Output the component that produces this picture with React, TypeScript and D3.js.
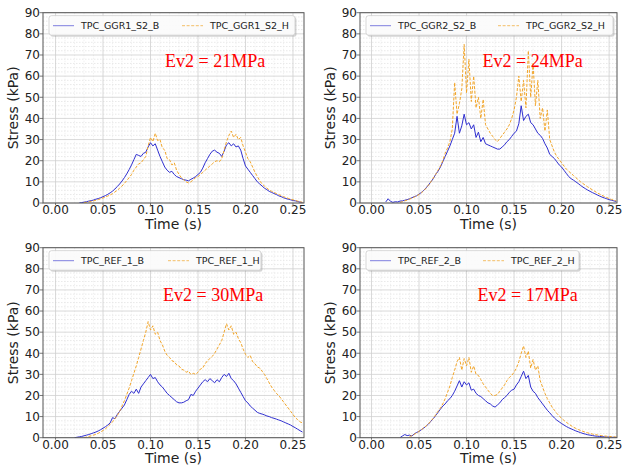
import React from 'react';
import * as d3 from 'd3';

// ---------------- data ----------------
const STEP = 0.0025; // sampling interval of the series (s)

const xTickValues = [0, 0.05, 0.1, 0.15, 0.2, 0.25];
const yTickValues = [0, 10, 20, 30, 40, 50, 60, 70, 80, 90];
const yMinorGrid = [2, 4, 6, 8, 12, 14, 16, 18, 22, 24, 26, 28, 32, 34, 36, 38, 42, 44, 46, 48, 52, 54, 56, 58, 62, 64, 66, 68, 72, 74, 76, 78, 82, 84, 86, 88];
const xMinorGrid = [0.01, 0.02, 0.03, 0.04, 0.06, 0.07, 0.08, 0.09, 0.11, 0.12, 0.13, 0.14, 0.16, 0.17, 0.18, 0.19, 0.21, 0.22, 0.23, 0.24];

const ggr1BStart = 0.025;
const ggr1B = [0, 0.2, 0.4, 0.6, 0.9, 1.1, 1.4, 1.8, 2.1, 2.5,
  3.0, 3.5, 4.1, 4.8, 5.6, 6.6, 7.8, 9.0, 10.4, 12.0,
  13.8, 15.8, 18.0, 20.5, 23.0, 22.5, 22.0, 23.5, 24.0, 26.5,
  28.5, 27.0, 28.0, 25.0, 22.0, 19.5, 17.0, 15.5, 14.5, 15.0,
  13.5, 12.5, 12.0, 11.5, 11.0, 10.8, 10.5, 11.2, 11.8, 12.5,
  13.5, 14.5, 16.5, 19.0, 21.0, 23.0, 24.5, 25.0, 24.0, 23.5,
  22.0, 24.5, 27.5, 28.5, 27.0, 28.0, 26.5, 27.0, 25.0, 21.0,
  17.5, 16.0, 14.5, 13.0, 11.5, 10.0, 9.0, 8.0, 7.0, 6.3,
  5.5, 5.0, 4.5, 4.0, 3.4, 3.0, 2.5, 2.1, 1.8, 1.5,
  1.2, 1.0, 0.7, 0.4, 0.2];

const ggr1HStart = 0.03;
const ggr1H = [0.2, 0.3, 0.5, 0.7, 1.0, 1.3, 1.6, 2.0, 2.4, 2.8,
  3.3, 3.8, 4.4, 5.2, 6.0, 7.0, 8.0, 9.3, 10.6, 12.0,
  13.5, 15.5, 17.0, 18.5, 19.0, 20.5, 22.0, 27.0, 31.0, 29.0,
  33.0, 29.5, 30.0, 26.0, 25.0, 21.0, 20.5, 18.0, 19.0, 15.5,
  13.5, 12.0, 11.0, 10.0, 9.5, 10.0, 11.0, 12.0, 12.5, 13.5,
  14.5, 15.5, 16.5, 17.5, 18.5, 19.5, 20.0, 19.5, 21.0, 25.0,
  29.0, 32.0, 34.0, 31.0, 32.5, 30.0, 31.0, 27.0, 24.0, 21.0,
  19.5, 17.0, 14.5, 12.5, 10.5, 9.0, 8.0, 7.0, 6.2, 5.5,
  5.0, 4.5, 4.0, 3.5, 3.0, 2.6, 2.2, 1.8, 1.5, 1.2,
  0.9, 0.6, 0.3];

const ggr2BStart = 0.015;
const ggr2B = [0.5, 2.0, 0.8, 0.3, 0.6, 0.5, 0.9, 1.0, 1.3, 1.6,
  2.0, 2.5, 3.0, 3.4, 4.2, 5.0, 6.0, 7.2, 8.5, 10.0,
  11.5, 13.5, 15.0, 17.0, 19.5, 22.0, 24.5, 27.0, 30.0, 33.0,
  41.0, 33.0, 36.5, 42.0, 37.0, 38.0, 35.0, 37.0, 31.0, 33.5,
  29.0, 31.0, 28.0, 27.5, 27.0, 26.5, 26.0, 25.5, 25.5, 26.5,
  27.5, 29.0, 30.0, 31.5, 33.0, 34.0, 37.5, 46.0, 39.0, 41.0,
  42.0, 38.0, 37.0, 35.0, 33.0, 32.0, 30.5, 28.0, 26.0, 23.0,
  22.0, 21.0, 19.5, 18.0, 17.0, 15.5, 14.0, 12.5, 11.5, 10.8,
  10.0, 9.2, 8.3, 7.5, 6.8, 6.1, 5.5, 4.9, 4.4, 3.8,
  3.3, 2.8, 2.4, 2.0, 1.6, 1.3, 1.0, 0.7];

const ggr2HStart = 0.03;
const ggr2H = [0.3, 0.6, 1.0, 1.4, 1.8, 2.3, 2.8, 3.4, 4.0, 4.8,
  5.8, 7.0, 8.5, 10.0, 11.8, 13.5, 15.5, 17.5, 20.0, 23.5,
  26.0, 29.0, 35.0, 57.0, 42.0, 47.0, 54.0, 75.0, 52.0, 68.0,
  48.0, 60.0, 45.0, 50.0, 40.0, 49.0, 37.0, 35.0, 33.0, 31.5,
  30.0, 29.0, 30.5, 32.0, 33.5, 35.0, 37.0, 40.0, 44.0, 50.0,
  60.0, 48.0, 58.0, 45.0, 72.0, 50.0, 66.0, 46.0, 58.0, 40.0,
  45.0, 34.0, 44.0, 30.0, 27.0, 24.0, 22.0, 20.5, 19.0, 17.5,
  16.0, 15.0, 14.0, 13.0, 12.0, 11.0, 10.0, 9.2, 8.4, 7.6,
  6.9, 6.2, 5.5, 4.8, 4.2, 3.6, 3.1, 2.6, 2.1, 1.7,
  1.3, 1.0];

const ref1BStart = 0.02;
const ref1B = [0, 0.2, 0.4, 0.6, 0.9, 1.2, 1.5, 1.9, 2.3, 2.7,
  3.2, 3.8, 4.5, 5.2, 6.0, 7.0, 9.5, 9.0, 11.0, 12.5,
  14.0, 15.5, 18.0, 20.5, 22.0, 21.0, 23.0, 21.0, 24.0, 25.5,
  27.0, 28.5, 30.0, 28.0, 28.5, 26.5, 25.0, 24.0, 22.5, 21.0,
  20.0, 19.0, 18.0, 17.0, 16.5, 16.5, 16.8, 17.5, 18.0, 20.5,
  20.0, 22.0, 23.5, 25.0, 26.5, 27.5, 26.5, 28.0, 27.0, 26.0,
  27.5, 26.5, 28.5, 30.0, 29.0, 30.5, 28.0, 27.0, 25.5, 23.5,
  21.5, 19.5, 17.5, 16.5, 15.0, 14.0, 13.0, 12.0, 11.5, 11.2,
  10.8, 10.3, 10.0, 9.5, 9.2, 8.8, 8.4, 8.0, 7.5, 7.0,
  6.5, 6.0, 5.3, 4.7, 4.0, 3.3, 2.7];

const ref1HStart = 0.03;
const ref1H = [0, 0.3, 0.6, 0.9, 1.2, 1.6, 2.1, 2.7, 3.4, 4.2,
  5.2, 6.3, 7.5, 9.0, 10.5, 12.5, 15.0, 17.5, 20.5, 23.5,
  27.0, 30.5, 34.0, 38.0, 42.0, 46.0, 50.0, 55.0, 51.0, 53.0,
  49.0, 50.0, 46.0, 44.0, 41.0, 39.0, 38.0, 36.5, 36.0, 34.5,
  34.0, 32.5, 32.0, 31.0, 31.5, 30.0, 30.5, 30.0, 31.0, 32.5,
  33.0, 35.0, 36.5, 37.5, 38.5, 40.0, 42.0, 44.0, 46.0, 50.0,
  54.0, 51.0, 53.0, 49.0, 50.0, 47.0, 45.0, 42.0, 39.5, 38.0,
  39.0, 36.0, 35.0, 33.5, 33.0, 31.5, 30.0, 28.0, 26.0, 24.0,
  22.5, 21.0, 20.0, 18.5, 17.0, 15.5, 14.0, 12.5, 11.0, 9.5,
  8.5, 7.5, 7.0];

const ref2BStart = 0.03;
const ref2B = [0, 0.8, 1.5, 1.0, 1.2, 0.8, 1.8, 2.5, 3.0, 3.8,
  4.6, 5.5, 6.5, 7.8, 9.0, 10.5, 12.0, 13.5, 15.0, 16.0,
  17.5, 18.5, 20.0, 22.0, 24.5, 27.0, 24.0, 26.5, 25.0, 26.0,
  22.5, 23.0, 21.0, 20.0, 19.5, 18.5, 17.5, 16.5, 16.0, 15.0,
  14.5, 15.5, 16.5, 18.0, 19.0, 20.0, 21.5, 22.5, 23.0, 25.0,
  26.5, 29.0, 31.5, 28.0, 29.5, 24.0, 22.0, 21.0, 19.0, 17.5,
  16.0, 14.5, 13.0, 11.8, 10.5, 9.3, 8.3, 7.5, 6.7, 6.0,
  5.3, 4.7, 4.2, 3.7, 3.2, 2.8, 2.4, 2.0, 1.7, 1.4,
  1.2, 1.0, 0.8, 0.7, 0.6, 0.5, 0.4, 0.3, 0.3, 0.2,
  0.2, 0.1, 0.1];

const ref2HStart = 0.04;
const ref2H = [0.5, 1.0, 1.6, 2.2, 3.0, 3.8, 4.7, 5.6, 6.6, 7.9,
  9.2, 10.8, 12.5, 14.0, 16.0, 18.5, 21.5, 24.5, 28.5, 32.0,
  36.0, 38.0, 32.0, 37.5, 34.0, 38.0, 31.0, 34.0, 30.0, 29.5,
  27.5, 25.5, 24.0, 22.5, 21.0, 20.0, 20.0, 20.5, 22.0, 23.5,
  25.0, 27.0, 28.5, 29.5, 31.0, 33.0, 36.0, 40.0, 43.5, 38.0,
  41.0, 33.0, 37.0, 32.0, 34.0, 27.0, 24.0, 21.0, 18.5, 16.5,
  14.5, 13.0, 11.5, 10.3, 9.2, 8.2, 7.3, 6.5, 5.7, 5.0,
  4.4, 3.9, 3.4, 3.0, 2.6, 2.3, 2.0, 1.7, 1.5, 1.3,
  1.1, 0.9, 0.8, 0.7, 0.6, 0.5, 0.4, 0.3, 0.3];

const legendNamesB = ['TPC_GGR1_S2_B', 'TPC_GGR2_S2_B', 'TPC_REF_1_B', 'TPC_REF_2_B'];
const legendNamesH = ['TPC_GGR1_S2_H', 'TPC_GGR2_S2_H', 'TPC_REF_1_H', 'TPC_REF_2_H'];
const ev2Labels = ['Ev2 = 21MPa', 'Ev2 = 24MPa', 'Ev2 = 30MPa', 'Ev2 = 17MPa'];

// ---------------- layout ----------------
const FONT = "'DejaVu Sans', sans-serif";
const BLUE = '#2f2fcf';
const ORANGE = '#f1a52a';

const panels = [
  { id: 'p1', left: 43, right: 304, top: 12.7, bottom: 203, xDomain: [-0.0132, 0.2616], b: ggr1B, bStart: ggr1BStart, h: ggr1H, hStart: ggr1HStart, nameB: legendNamesB[0], nameH: legendNamesH[0], ev2: ev2Labels[0], evDx: 122, evDy: 54, legW: 246, legG: 133 },
  { id: 'p2', left: 360, right: 617, top: 12.7, bottom: 203, xDomain: [-0.0121, 0.2583], b: ggr2B, bStart: ggr2BStart, h: ggr2H, hStart: ggr2HStart, nameB: legendNamesB[1], nameH: legendNamesH[1], ev2: ev2Labels[1], evDx: 122.5, evDy: 54, legW: 247, legG: 132 },
  { id: 'p3', left: 43, right: 304, top: 247.7, bottom: 437.7, xDomain: [-0.0132, 0.2616], b: ref1B, bStart: ref1BStart, h: ref1H, hStart: ref1HStart, nameB: legendNamesB[2], nameH: legendNamesH[2], ev2: ev2Labels[2], evDx: 120, evDy: 53, legW: 212, legG: 119 },
  { id: 'p4', left: 360, right: 617, top: 247.7, bottom: 437.7, xDomain: [-0.0121, 0.2583], b: ref2B, bStart: ref2BStart, h: ref2H, hStart: ref2HStart, nameB: legendNamesB[3], nameH: legendNamesH[3], ev2: ev2Labels[3], evDx: 117.5, evDy: 53, legW: 213, legG: 117 },
];

function Panel({ p }: { p: any }) {
  const x = d3.scaleLinear().domain(p.xDomain).range([p.left, p.right]);
  const y = d3.scaleLinear().domain([0, 90]).range([p.bottom, p.top]);
  const mkLine = (start: number) =>
    d3.line<number>().x((_, i) => x(start + i * STEP)).y((d) => y(d));
  const lx = p.left + 6;
  const ly = p.top + 3;
  const cx = (p.left + p.right) / 2;
  const cy = (p.top + p.bottom) / 2;
  return (
    <g>
      <defs>
        <clipPath id={'clip-' + p.id}>
          <rect x={p.left} y={p.top} width={p.right - p.left} height={p.bottom - p.top} />
        </clipPath>
      </defs>
      {/* minor grid */}
      {yMinorGrid.map((v) => (
        <line key={'ym' + v} x1={p.left} x2={p.right} y1={y(v)} y2={y(v)} stroke="#dadada" strokeWidth={0.6} strokeDasharray="1.5 1.5" />
      ))}
      {xMinorGrid.map((v) => (
        <line key={'xm' + v} x1={x(v)} x2={x(v)} y1={p.top} y2={p.bottom} stroke="#e8e8e8" strokeWidth={0.6} strokeDasharray="1.5 1.5" />
      ))}
      {/* major grid */}
      {yTickValues.map((v) => (
        <line key={'yg' + v} x1={p.left} x2={p.right} y1={y(v)} y2={y(v)} stroke="#d0d0d0" strokeWidth={0.8} />
      ))}
      {xTickValues.map((v) => (
        <line key={'xg' + v} x1={x(v)} x2={x(v)} y1={p.top} y2={p.bottom} stroke="#cfcfcf" strokeWidth={0.8} />
      ))}
      {/* series */}
      <g clipPath={`url(#clip-${p.id})`}>
        <path d={mkLine(p.bStart)(p.b) || ''} fill="none" stroke={BLUE} strokeWidth={1} strokeLinejoin="round" />
        <path d={mkLine(p.hStart)(p.h) || ''} fill="none" stroke={ORANGE} strokeWidth={1} strokeDasharray="3 1.6" strokeLinejoin="round" />
      </g>
      {/* frame */}
      <rect x={p.left} y={p.top} width={p.right - p.left} height={p.bottom - p.top} fill="none" stroke="#555" strokeWidth={1} />
      {/* y ticks */}
      {yTickValues.map((v) => (
        <g key={'yt' + v}>
          <line x1={p.left - 3.5} x2={p.left} y1={y(v)} y2={y(v)} stroke="#555" strokeWidth={0.8} />
          <text x={p.left - 3} y={y(v)} dy="0.36em" textAnchor="end" fontFamily={FONT} fontSize={12} fill="#222">{v}</text>
        </g>
      ))}
      {/* x ticks */}
      {xTickValues.map((v) => (
        <g key={'xt' + v}>
          <line x1={x(v)} x2={x(v)} y1={p.bottom} y2={p.bottom + 2} stroke="#555" strokeWidth={0.8} />
          <text x={x(v)} y={p.bottom + 11} textAnchor="middle" fontFamily={FONT} fontSize={12} fill="#222">{v.toFixed(2)}</text>
        </g>
      ))}
      {/* axis labels */}
      <text x={cx} y={p.bottom + 25.5} textAnchor="middle" fontFamily={FONT} fontSize={14} fill="#222">Time (s)</text>
      <text transform={`translate(${p.left - 25},${cy}) rotate(-90)`} textAnchor="middle" fontFamily={FONT} fontSize={14} fill="#222">Stress (kPa)</text>
      {/* legend */}
      <rect x={lx + 1.5} y={ly + 1.5} width={p.legW} height={19.5} rx={2.5} fill="#888" opacity={0.35} />
      <rect x={lx} y={ly} width={p.legW} height={19.5} rx={2.5} fill="#fff" fillOpacity={0.9} stroke="#cccccc" strokeWidth={0.8} />
      <line x1={lx + 4} x2={lx + 25} y1={ly + 10} y2={ly + 10} stroke={BLUE} strokeOpacity={0.6} strokeWidth={1} />
      <text x={lx + 32} y={ly + 13.5} fontFamily={FONT} fontSize={9.5} fill="#222">{p.nameB}</text>
      <line x1={lx + p.legG} x2={lx + p.legG + 21} y1={ly + 10} y2={ly + 10} stroke={ORANGE} strokeOpacity={0.7} strokeWidth={1} strokeDasharray="3 1.6" />
      <text x={lx + p.legG + 28} y={ly + 13.5} fontFamily={FONT} fontSize={9.5} fill="#222">{p.nameH}</text>
      {/* annotation */}
      <text x={p.left + p.evDx} y={p.top + p.evDy} fontFamily="'Liberation Serif', 'Times New Roman', serif" fontSize={18} fill="#ff0000">{p.ev2}</text>
    </g>
  );
}

export default function App() {
  return (
    <svg width={622} height={470} style={{ position: 'absolute', left: 0, top: 0, background: '#fff' }}>
      <rect x={0} y={0} width={622} height={470} fill="#fff" />
      {panels.map((p) => (
        <Panel key={p.id} p={p} />
      ))}
    </svg>
  );
}
